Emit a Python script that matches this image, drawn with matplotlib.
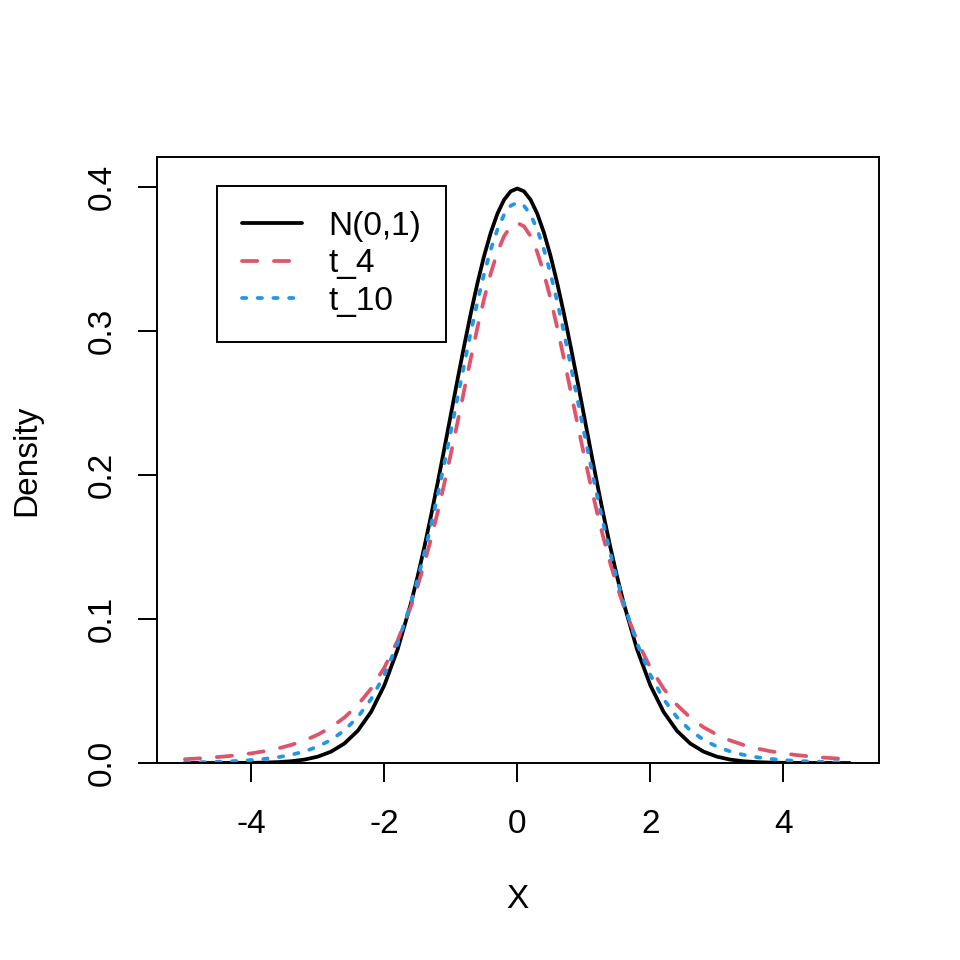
import numpy as np
import matplotlib
matplotlib.use("Agg")
import matplotlib.pyplot as plt

# density values; finer steps near the peak
x = [-5.0, -4.8, -4.6, -4.4, -4.2, -4.0, -3.8, -3.6, -3.4, -3.2, -3.0, -2.8, -2.6, -2.4, -2.2, -2.0, -1.8, -1.6,
     -1.5, -1.4, -1.3, -1.2, -1.1, -1.0, -0.9, -0.8, -0.7, -0.6, -0.5, -0.4, -0.3, -0.2, -0.1, 0.0,
     0.1, 0.2, 0.3, 0.4, 0.5, 0.6, 0.7, 0.8, 0.9, 1.0, 1.1, 1.2, 1.3, 1.4, 1.5,
     1.6, 1.8, 2.0, 2.2, 2.4, 2.6, 2.8, 3.0, 3.2, 3.4, 3.6, 3.8, 4.0, 4.2, 4.4, 4.6, 4.8, 5.0]
norm_y = [0.0, 0.0, 0.00001, 0.00002, 0.00006, 0.00013, 0.00029, 0.00061, 0.00123, 0.00238, 0.00443, 0.00792,
          0.01358, 0.02239, 0.03547, 0.05399, 0.07895, 0.11092,
          0.12952, 0.14973, 0.17137, 0.19419, 0.21785, 0.24197, 0.26609, 0.28969, 0.31225, 0.33322, 0.35207,
          0.36827, 0.38139, 0.39104, 0.39695, 0.39894,
          0.39695, 0.39104, 0.38139, 0.36827, 0.35207, 0.33322, 0.31225, 0.28969, 0.26609, 0.24197, 0.21785,
          0.19419, 0.17137, 0.14973, 0.12952,
          0.11092, 0.07895, 0.05399, 0.03547, 0.02239, 0.01358, 0.00792, 0.00443, 0.00238, 0.00123, 0.00061,
          0.00029, 0.00013, 0.00006, 0.00002, 0.00001, 0.0, 0.0]
t4_y = [0.00265, 0.00316, 0.00378, 0.00455, 0.00551, 0.00671, 0.00822, 0.01013, 0.01257, 0.01568, 0.01970, 0.02488,
        0.03160, 0.04032, 0.05164, 0.06629, 0.08508, 0.10887,
        0.12288, 0.13837, 0.15538, 0.17385, 0.19369, 0.21466, 0.23650, 0.25875, 0.28091, 0.30233, 0.32226,
        0.33998, 0.35471, 0.36579, 0.37267, 0.37500,
        0.37267, 0.36579, 0.35471, 0.33998, 0.32226, 0.30233, 0.28091, 0.25875, 0.23650, 0.21466, 0.19369,
        0.17385, 0.15538, 0.13837, 0.12288,
        0.10887, 0.08508, 0.06629, 0.05164, 0.04032, 0.03160, 0.02488, 0.01970, 0.01568, 0.01257, 0.01013,
        0.00822, 0.00671, 0.00551, 0.00455, 0.00378, 0.00316, 0.00265]
t10_y = [0.00040, 0.00054, 0.00075, 0.00104, 0.00145, 0.00203, 0.00286, 0.00403, 0.00569, 0.00805, 0.01140, 0.01612,
         0.02272, 0.03188, 0.04438, 0.06115, 0.08312, 0.11108,
         0.12745, 0.14539, 0.16485, 0.18566, 0.20761, 0.23036, 0.25354, 0.27663, 0.29910, 0.32033, 0.33970,
         0.35658, 0.37040, 0.38066, 0.38698, 0.38911,
         0.38698, 0.38066, 0.37040, 0.35658, 0.33970, 0.32033, 0.29910, 0.27663, 0.25354, 0.23036, 0.20761,
         0.18566, 0.16485, 0.14539, 0.12745,
         0.11108, 0.08312, 0.06115, 0.04438, 0.03188, 0.02272, 0.01612, 0.01140, 0.00805, 0.00569, 0.00403,
         0.00286, 0.00203, 0.00145, 0.00104, 0.00075, 0.00054, 0.00040]
labels = ["N(0,1)", "t_4", "t_10"]
xticks = [-4, -2, 0, 2, 4]
yticks = [0.0, 0.1, 0.2, 0.3, 0.4]

plt.rcParams['font.family'] = ['Liberation Sans', 'DejaVu Sans']
plt.rcParams['axes.unicode_minus'] = False
plt.rcParams['lines.scale_dashes'] = False
fs = 24

fig = plt.figure(figsize=(9.6, 9.6), dpi=100)
ax = fig.add_axes([157/960, 1-763/960, (879-157)/960, (763-157)/960])

lw = 2.7
ax.plot(x, norm_y, color='black', lw=lw, solid_capstyle='round', solid_joinstyle='round', label=labels[0])
ax.plot(x, t4_y, color='#DF536B', lw=lw, dashes=(11, 12), dash_capstyle='round', label=labels[1])
ax.plot(x, t10_y, color='#2297E6', lw=lw, dashes=(3.1, 8.2), dash_capstyle='round', label=labels[2])

ax.set_xlim(-5.42, 5.44)
ax.set_ylim(0, 0.4208)
ax.set_xticks(xticks)
ax.set_xticklabels([str(v) for v in xticks])
ax.set_yticks(yticks)
ax.set_yticklabels(["%.1f" % v for v in yticks], rotation=90, va='center')
for s in ax.spines.values():
    s.set_linewidth(1.4)
ax.tick_params(axis='both', labelsize=fs, width=1.4, length=14, direction='out')
ax.tick_params(axis='x', pad=19)
ax.tick_params(axis='y', pad=14)

fig.text(517/960, 1-899/960, "X", fontsize=fs, ha='center', va='center')
fig.text(27/960, 1-460/960, "Density", fontsize=fs, ha='center', va='center', rotation=90)

leg = ax.legend(loc='upper left', bbox_to_anchor=(0.0827, 0.9526), borderaxespad=0,
                fontsize=fs, handlelength=1.8, handletextpad=0.8, borderpad=0.75,
                labelspacing=0.2, fancybox=False, framealpha=1, edgecolor='black')
leg.get_frame().set_linewidth(1.4)

fig.savefig("out.png", dpi=100)
